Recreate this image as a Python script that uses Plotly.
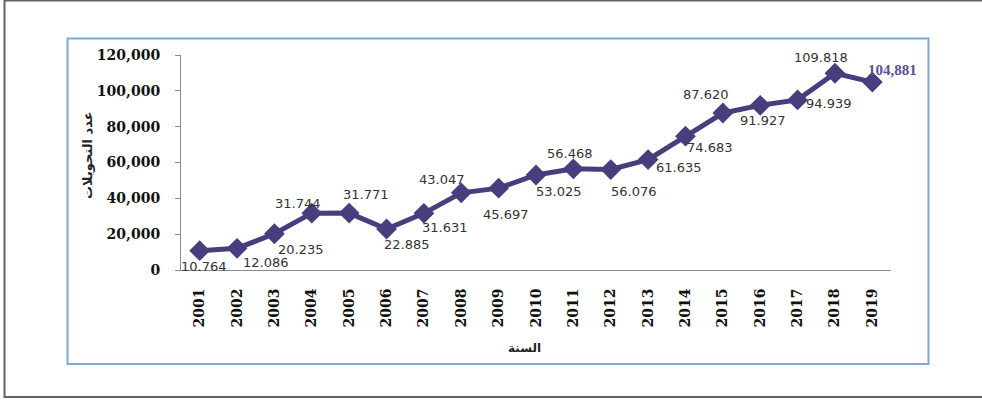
import plotly.graph_objects as go

years = [str(y) for y in range(2001, 2020)]
values = [10764, 12086, 20235, 31744, 31771, 22885, 31631, 43047, 45697, 53025,
          56468, 56076, 61635, 74683, 87620, 91927, 94939, 109818, 104881]
labels = ["10.764", "12.086", "20.235", "31.744", "31.771", "22.885", "31.631", "43.047",
          "45.697", "53.025", "56.468", "56.076", "61.635", "74.683", "87.620", "91.927",
          "94.939", "109.818", "104,881"]
# label offsets (px) relative to each point: (dx, dy downwards)
offsets = [(4, 16), (29, 14), (27, 16), (-14, -10), (17, -19), (20, 15), (21, 14), (-19, -13),
           (7, 26), (23, 16), (-3, -15), (23, 22), (31, 8), (25, 11), (-17, -19), (3, 15),
           (31, 4), (-14, -16), (20, -12)]
y_ticks = [0, 20000, 40000, 60000, 80000, 100000, 120000]
y_tick_text = ["0", "20,000", "40,000", "60,000", "80,000", "100,000", "120,000"]

line_color = "#4a3d7e"

fig = go.Figure()
fig.add_trace(go.Scatter(
    x=years, y=values, mode="lines+markers",
    line=dict(color=line_color, width=5),
    marker=dict(symbol="diamond", size=16, color=line_color),
    hoverinfo="skip", showlegend=False,
))

annotations = []
for i, (v, lab) in enumerate(zip(values, labels)):
    dx, dy = offsets[i]
    last = i == len(values) - 1
    annotations.append(dict(
        x=i, y=v, xref="x", yref="y", text=lab, showarrow=False,
        xshift=dx, yshift=-dy,
        font=dict(family="Liberation Serif" if last else "DejaVu Sans",
                  size=15 if last else 13,
                  color="#5b4f95" if last else "#333333",
                  weight="bold" if last else "normal"),
    ))

# axis titles
annotations.append(dict(
    text="<b>عدد التحويلات</b>", xref="paper", yref="paper",
    x=(87 - 181) / 710, y=(270 - 155) / 215, showarrow=False, textangle=-90,
    xanchor="center", yanchor="middle",
    font=dict(family="DejaVu Sans", size=13, color="#222222"),
))
annotations.append(dict(
    text="<b>السنة</b>", xref="paper", yref="paper",
    x=(524 - 181) / 710, y=(270 - 348) / 215, showarrow=False,
    xanchor="center", yanchor="middle",
    font=dict(family="DejaVu Sans", size=12, color="#222222"),
))

def px_x(p):
    return (p - 181) / 710

def px_y(p):
    return (270 - p) / 215

shapes = [
    dict(type="rect", xref="paper", yref="paper",
         x0=px_x(4.5), x1=px_x(995), y0=px_y(397), y1=px_y(0.5),
         line=dict(color="#5d636b", width=2), layer="below"),
    dict(type="rect", xref="paper", yref="paper",
         x0=px_x(67.5), x1=px_x(928.5), y0=px_y(364), y1=px_y(38.5),
         line=dict(color="#7fa7d6", width=2), layer="below"),
]

fig.update_layout(
    width=982, height=400,
    margin=dict(l=181, r=91, t=55, b=130),
    paper_bgcolor="white", plot_bgcolor="white",
    annotations=annotations, shapes=shapes,
    xaxis=dict(
        type="category", range=[-0.5, len(years) - 0.5],
        showgrid=False, zeroline=False,
        showline=True, linecolor="#8c8c8c", linewidth=1,
        ticks="", tickangle=-90, ticklabelstandoff=12,
        tickfont=dict(family="DejaVu Serif", size=14, color="#111111", weight="bold"),
    ),
    yaxis=dict(
        range=[0, 120000], showgrid=False, zeroline=False,
        showline=True, linecolor="#8c8c8c", linewidth=1,
        ticks="outside", ticklen=5, tickcolor="#8c8c8c",
        tickvals=y_ticks, ticktext=y_tick_text, ticklabelstandoff=12,
        tickfont=dict(family="DejaVu Serif", size=14, color="#111111", weight="bold"),
    ),
)

fig.write_html("out.html", config={"displayModeBar": False},
               post_script="document.body.style.margin='0';")
